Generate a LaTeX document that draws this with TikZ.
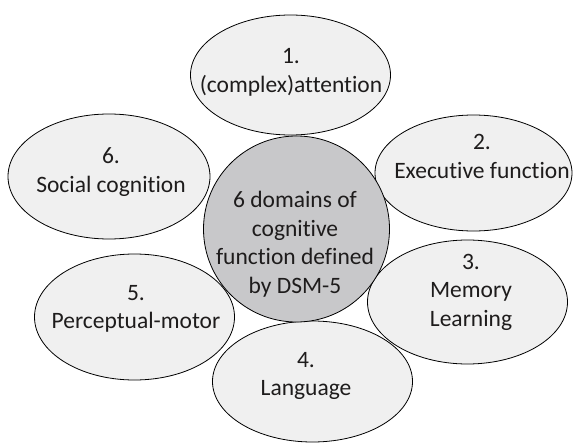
\documentclass[tikz,border=0pt]{standalone}
\usepackage{fontspec}
\setmainfont{Carlito}[Ligatures={NoCommon,NoContextual}]
\usepackage{xcolor}
\usetikzlibrary{math}
\definecolor{petal}{RGB}{240,240,240}
\definecolor{core}{RGB}{200,200,202}
\definecolor{ink}{RGB}{30,28,28}

\tikzset{petaltext/.style={font=\fontsize{23.5}{28.5}\selectfont, text=ink, align=center}}

\begin{document}
\begin{tikzpicture}[x=1pt,y=-1pt]
\tikzmath{
\rx=100;
\lw=0.8;
}
\useasboundingbox (0,0) rectangle (573,444);

% outer petals
\filldraw[fill=petal,draw=black,line width=\lw] (290.5,75) ellipse [x radius=\rx, y radius=60];
\filldraw[fill=petal,draw=black,line width=\lw] (473.5,173) ellipse [x radius=98.5, y radius=58];
\filldraw[fill=petal,draw=black,line width=\lw] (467.5,302) ellipse [x radius=\rx, y radius=62];
\filldraw[fill=petal,draw=black,line width=\lw] (312.5,381.5) ellipse [x radius=\rx, y radius=60.5];
\filldraw[fill=petal,draw=black,line width=\lw] (134.5,317) ellipse [x radius=\rx, y radius=63];
\filldraw[fill=petal,draw=black,line width=\lw] (109,176.5) ellipse [x radius=101, y radius=62.5];

% centre disc
\filldraw[fill=core,draw=black,line width=\lw] (296.5,229) circle [radius=93];

\node[petaltext] (attention) at (291,72.5) {1.\\(complex)attention};
\node[petaltext] (executive) at (482,156.5) {2.\\Executive function};
\node[petaltext] (memory) at (471,292) {3.\\Memory\\Learning};
\node[petaltext] (language) at (306,376) {4.\\Language};
\node[petaltext] (perceptual) at (136,309) {5.\\Perceptual-motor};
\node[petaltext] (social) at (111,172) {6.\\Social cognition};
\node[petaltext] (dsm) at (295,244) {6 domains of\\cognitive\\function defined\\by DSM-5};

\end{tikzpicture}
\end{document}
